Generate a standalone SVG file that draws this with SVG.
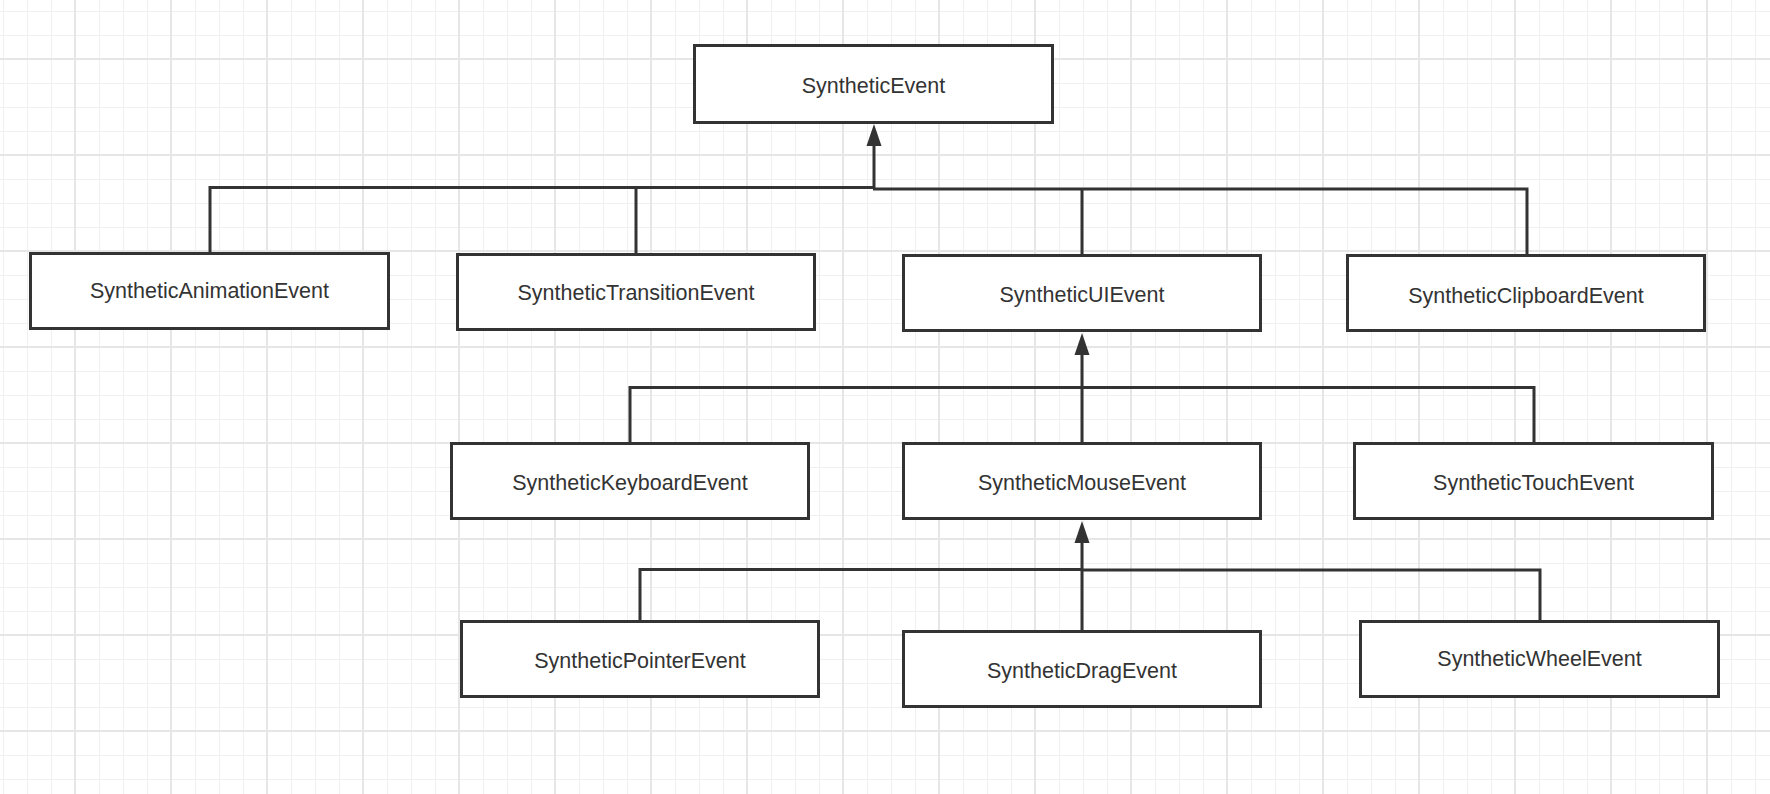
<svg xmlns="http://www.w3.org/2000/svg" width="1770" height="794" viewBox="0 0 1770 794">
<style>
.box{fill:#ffffff;stroke:#333333;stroke-width:3}
.lbl{font-family:"Liberation Sans",Arial,sans-serif;font-size:21.5px;fill:#333333;text-anchor:middle}
.conn{fill:none;stroke:#333333;stroke-width:3}
</style>
<defs>
<pattern id="minor" patternUnits="userSpaceOnUse" x="3" y="11" width="24" height="24">
<rect x="0" y="0" width="1" height="24" fill="#f0f0f0"/>
<rect x="0" y="0" width="24" height="1" fill="#f0f0f0"/>
</pattern>
<pattern id="major" patternUnits="userSpaceOnUse" x="74" y="58" width="96" height="96">
<rect x="0" y="0" width="2" height="96" fill="#e6e6e6"/>
<rect x="0" y="0" width="96" height="2" fill="#e6e6e6"/>
</pattern>
<marker id="arrow" markerUnits="userSpaceOnUse" markerWidth="23" markerHeight="16" refX="0" refY="7.5" orient="auto" overflow="visible">
<path d="M0,0 L22,7.5 L0,15 Z" fill="#333333"/>
</marker>
</defs>
<g id="background">
<rect width="1770" height="794" fill="#ffffff"/>
<rect width="1770" height="794" fill="url(#minor)"/>
<rect width="1770" height="794" fill="url(#major)"/>
</g>
<g id="connectors">
<path class="conn" d="M874 188 V146" marker-end="url(#arrow)"/>
<path class="conn" d="M210 252 V187.5 H875"/>
<path class="conn" d="M636 253 V187.5"/>
<path class="conn" d="M873 189 H1527 V254"/>
<path class="conn" d="M1082 189 V254"/>
<path class="conn" d="M1082 442 V355" marker-end="url(#arrow)"/>
<path class="conn" d="M630 442 V387.5 H1534 V442"/>
<path class="conn" d="M1082 630 V543" marker-end="url(#arrow)"/>
<path class="conn" d="M640 620 V569.5 H1083"/>
<path class="conn" d="M1081 570 H1540 V620"/>
</g>
<g id="SyntheticEvent">
<rect class="box" x="694.5" y="45.5" width="358" height="77"/>
<text class="lbl" x="873.5" y="92.5">SyntheticEvent</text>
</g>
<g id="SyntheticAnimationEvent">
<rect class="box" x="30.5" y="253.5" width="358" height="75"/>
<text class="lbl" x="209.5" y="298">SyntheticAnimationEvent</text>
</g>
<g id="SyntheticTransitionEvent">
<rect class="box" x="457.5" y="254.5" width="357" height="75"/>
<text class="lbl" x="636" y="300">SyntheticTransitionEvent</text>
</g>
<g id="SyntheticUIEvent">
<rect class="box" x="903.5" y="255.5" width="357" height="75"/>
<text class="lbl" x="1082" y="301.5">SyntheticUIEvent</text>
</g>
<g id="SyntheticClipboardEvent">
<rect class="box" x="1347.5" y="255.5" width="357" height="75"/>
<text class="lbl" x="1526" y="302.5">SyntheticClipboardEvent</text>
</g>
<g id="SyntheticKeyboardEvent">
<rect class="box" x="451.5" y="443.5" width="357" height="75"/>
<text class="lbl" x="630" y="490">SyntheticKeyboardEvent</text>
</g>
<g id="SyntheticMouseEvent">
<rect class="box" x="903.5" y="443.5" width="357" height="75"/>
<text class="lbl" x="1082" y="490">SyntheticMouseEvent</text>
</g>
<g id="SyntheticTouchEvent">
<rect class="box" x="1354.5" y="443.5" width="358" height="75"/>
<text class="lbl" x="1533.5" y="490">SyntheticTouchEvent</text>
</g>
<g id="SyntheticPointerEvent">
<rect class="box" x="461.5" y="621.5" width="357" height="75"/>
<text class="lbl" x="640" y="667.5">SyntheticPointerEvent</text>
</g>
<g id="SyntheticDragEvent">
<rect class="box" x="903.5" y="631.5" width="357" height="75"/>
<text class="lbl" x="1082" y="678">SyntheticDragEvent</text>
</g>
<g id="SyntheticWheelEvent">
<rect class="box" x="1360.5" y="621.5" width="358" height="75"/>
<text class="lbl" x="1539.5" y="665.5">SyntheticWheelEvent</text>
</g>
</svg>
